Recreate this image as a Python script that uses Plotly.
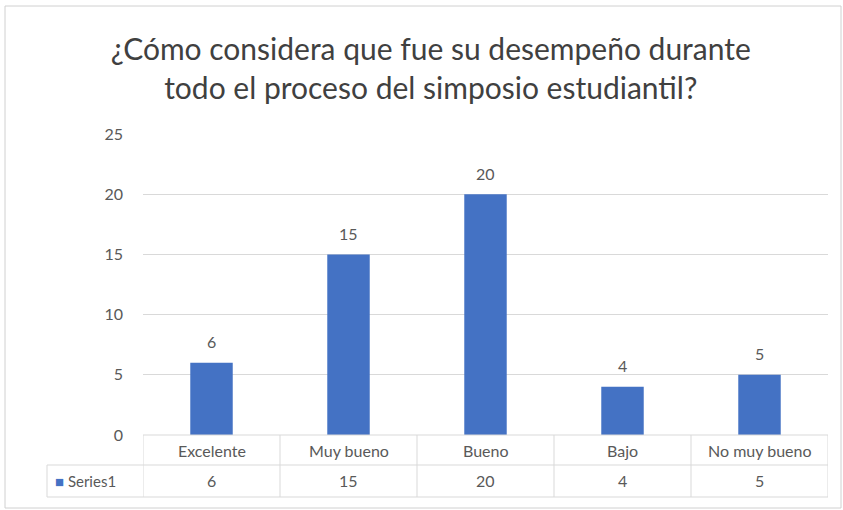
import plotly.graph_objects as go

categories = ["Excelente", "Muy bueno", "Bueno", "Bajo", "No muy bueno"]
values = [6, 15, 20, 4, 5]
series_name = "Series1"
title_text = "¿Cómo considera que fue su desempeño durante<br>todo el proceso del simposio estudiantil?"
y_ticks = [0, 5, 10, 15, 20, 25]

W, H = 843, 510
L, R, T, B = 143, 15, 134, 75
pw = W - L - R
ph = H - T - B

def px(p):
    return (p - L) / pw

def py(p):
    return (H - B - p) / ph

FONT = "Lato"
GRID = "#d9d9d9"
TXT = "#595959"
BLUE = "#4472C4"

fig = go.Figure()
fig.add_trace(go.Bar(
    x=list(range(len(categories))), y=values, name=series_name,
    marker=dict(color=BLUE, line=dict(width=0)),
    width=0.31,
))

shapes = []
shapes.append(dict(type="rect", xref="paper", yref="paper",
                   x0=px(5), x1=px(841), y0=py(508), y1=py(6),
                   line=dict(color="#d0d0d0", width=1), layer="below"))
for yy, x0 in [(435, 143), (465, 47), (497, 47)]:
    shapes.append(dict(type="line", xref="paper", yref="paper",
                       x0=px(x0), x1=1, y0=py(yy), y1=py(yy),
                       line=dict(color=GRID, width=1)))
n = len(categories)
for i in range(n + 1):
    shapes.append(dict(type="line", xref="x", yref="paper",
                       x0=i - 0.5, x1=i - 0.5, y0=py(435), y1=py(497),
                       line=dict(color=GRID, width=1)))
shapes.append(dict(type="line", xref="paper", yref="paper",
                   x0=px(47), x1=px(47), y0=py(465), y1=py(497),
                   line=dict(color=GRID, width=1)))

annotations = []
for i, c in enumerate(categories):
    annotations.append(dict(x=i, y=values[i], xref="x", yref="y", text=str(values[i]),
                            xanchor="center", yanchor="middle", yshift=21,
                            showarrow=False, font=dict(family=FONT, size=16, color=TXT)))
    annotations.append(dict(x=i, y=py(450), xref="x", yref="paper", text=c,
                            xanchor="center", yanchor="middle",
                            showarrow=False, font=dict(family=FONT, size=16, color=TXT)))
    annotations.append(dict(x=i, y=py(481), xref="x", yref="paper", text=str(values[i]),
                            xanchor="center", yanchor="middle",
                            showarrow=False, font=dict(family=FONT, size=16, color=TXT)))
annotations.append(dict(x=px(53), y=py(481), xref="paper", yref="paper",
                        xanchor="left", yanchor="middle",
                        text=f"<span style='color:{BLUE}'>■</span> {series_name}",
                        showarrow=False, font=dict(family=FONT, size=15, color=TXT)))

fig.update_layout(
    width=W, height=H,
    margin=dict(l=L, r=R, t=T, b=B),
    paper_bgcolor="white", plot_bgcolor="white",
    title=dict(text=title_text, x=0.511, xref="container", xanchor="center",
               y=1 - 60 / H, yanchor="middle",
               font=dict(family=FONT, size=30, color="#404040")),
    showlegend=False,
    xaxis=dict(range=[-0.5, n - 0.5], showticklabels=False, showgrid=False,
               zeroline=False, showline=False, fixedrange=True),
    yaxis=dict(range=[0, 25], tickvals=y_ticks, showgrid=True, gridcolor=GRID,
               gridwidth=1, zeroline=False, showline=False,
               tickfont=dict(family=FONT, size=16, color=TXT), ticks="",
               ticklabelstandoff=19),
    shapes=shapes, annotations=annotations,
    bargap=0.69,
)

fig.write_html("out.html", config={"displayModeBar": False},
               post_script="document.body.style.margin='0';")
